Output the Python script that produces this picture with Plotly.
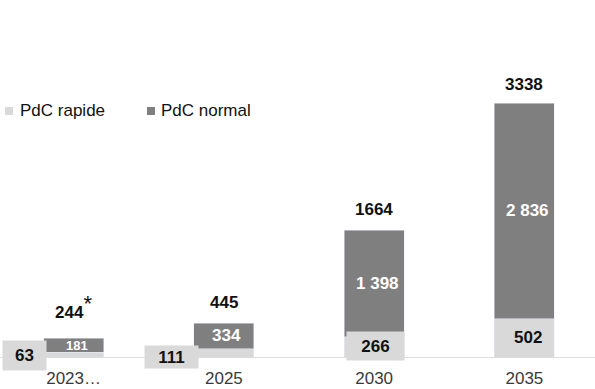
import plotly.graph_objects as go

# ---- data ----
years = ["2023…", "2025", "2030", "2035"]
rapide = [63, 111, 266, 502]
normal = [181, 334, 1398, 2836]
totals = [244, 445, 1664, 3338]
total_notes = ["*", "", "", ""]
series_names = ["PdC rapide", "PdC normal"]

LIGHT = "#d9d9d9"
DARK = "#7f7f7f"
FONT = "Liberation Sans, Arial, sans-serif"
W, H = 595, 389
MB = 32
PH = H - MB  # plot height in px


def fmt(v):
    return f"{v:,}".replace(",", " ")


def px_x(px):
    return px / W


def px_y(py):
    return (PH - py) / PH


fig = go.Figure()
fig.add_bar(x=years, y=rapide, marker_color=LIGHT, width=0.4, showlegend=False,
            name=series_names[0], hoverinfo="skip")
fig.add_bar(x=years, y=normal, marker_color=DARK, width=0.4, showlegend=False,
            name=series_names[1], hoverinfo="skip")

# label styles for the light segment (small segments get a boxed label beside the bar)
rapide_style = [
    dict(pos="base", xshift=-49, yshift=2, width=41, height=27, box=True),
    dict(pos="base", xshift=-52, yshift=0, width=51, height=20, box=True),
    dict(pos="mid", xshift=1, yshift=1, width=55, height=26, box=True),
    dict(pos="mid", xshift=4, yshift=0, width=None, height=None, box=False),
]
total_shift = [14, 9, 9, 7]

for i, yr in enumerate(years):
    st = rapide_style[i]
    yv = 0 if st["pos"] == "base" else rapide[i] / 2
    kw = dict(x=i, y=yv, text=f"<b>{fmt(rapide[i])}</b>", showarrow=False,
              xshift=st["xshift"], yshift=st["yshift"],
              font=dict(family=FONT, size=17, color="#111111"))
    if st["box"]:
        kw.update(bgcolor=LIGHT, width=st["width"], height=st["height"])
    fig.add_annotation(**kw)

    # dark segment label
    fig.add_annotation(x=i, y=rapide[i] + normal[i] / 2,
                       text=f"<b>{fmt(normal[i])}</b>", showarrow=False, xshift=3,
                       font=dict(family=FONT, size=13 if i == 0 else 17, color="white"))

    # total label
    note = (f"<sup><span style='font-size:22px'>{total_notes[i]}</span></sup>"
            if total_notes[i] else "")
    fig.add_annotation(x=i, y=totals[i], text=f"<b>{totals[i]}</b>{note}",
                       showarrow=False, yanchor="bottom", yshift=total_shift[i],
                       font=dict(family=FONT, size=17, color="#111111"))

# legend (drawn as small squares + text)
legend_marks = [(5, LIGHT, 18), (147, DARK, 159)]
for (mx, col, tx), name in zip(legend_marks, series_names):
    fig.add_shape(type="rect", xref="paper", yref="paper",
                  x0=px_x(mx), x1=px_x(mx + 8), y0=px_y(115), y1=px_y(107),
                  fillcolor=col, line_width=0)
    fig.add_annotation(xref="paper", yref="paper", x=px_x(tx), y=px_y(110),
                       xanchor="left", yanchor="middle", showarrow=False,
                       text=name, font=dict(family=FONT, size=17, color="#111111"))

fig.update_layout(
    barmode="stack",
    width=W, height=H,
    margin=dict(l=0, r=0, t=0, b=MB),
    paper_bgcolor="white", plot_bgcolor="white",
    font=dict(family=FONT, color="#111111"),
    showlegend=False,
    xaxis=dict(type="category", range=[-0.49, 3.47], automargin=False,
               showline=True, linecolor="#dddddd", linewidth=1,
               showgrid=False, ticks="", ticklabelstandoff=6,
               tickfont=dict(family=FONT, size=17, color="#3a3a3a")),
    yaxis=dict(range=[0, 4692], visible=False, showgrid=False, zeroline=False,
               automargin=False),
)

fig.write_html("out.html")
